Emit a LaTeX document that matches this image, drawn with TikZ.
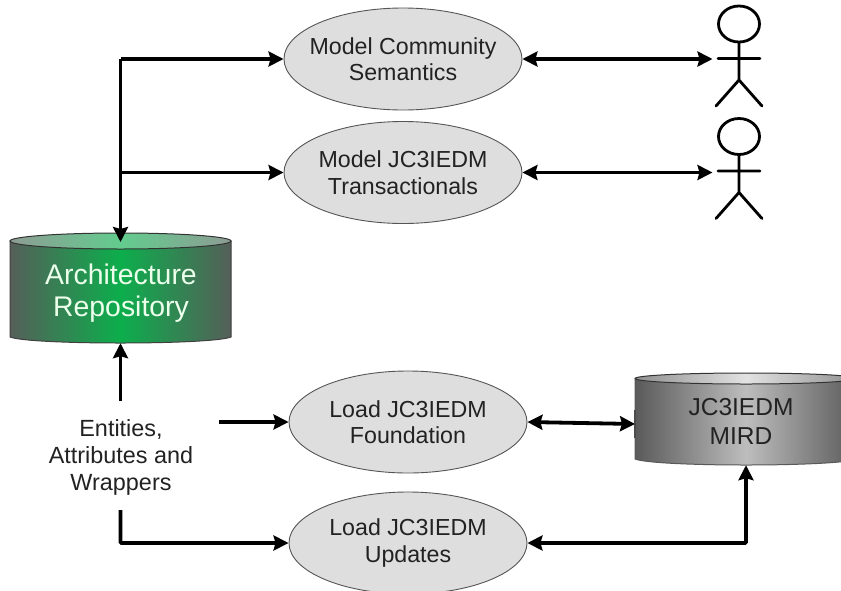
\documentclass[tikz,border=0pt]{standalone}
\usepackage{fontspec}
\setmainfont{Liberation Sans}
\usetikzlibrary{shapes.geometric,arrows.meta,calc}
\definecolor{ellfill}{HTML}{DEDEDE}
\definecolor{ellline}{HTML}{555555}
\definecolor{txt}{HTML}{222222}
\definecolor{gEdge}{HTML}{555F59}
\definecolor{gMid}{HTML}{0CAE4C}
\definecolor{gTopEdge}{HTML}{8E9C94}
\definecolor{gTopMid}{HTML}{62CC8E}
\definecolor{sEdge}{HTML}{5A5A5A}
\definecolor{sMid}{HTML}{BDBDBD}
\definecolor{sTopEdge}{HTML}{909090}
\definecolor{sTopMid}{HTML}{E2E2E2}
\tikzset{
  usecase/.style={ellipse,draw=ellline,line width=0.9pt,fill=ellfill,minimum width=238pt,minimum height=102pt,
    inner xsep=-20pt,inner ysep=0pt,align=center,text=txt,font=\fontsize{23.2}{26.5}\selectfont},
  conn/.style={line width=3.8pt,draw=black,-{Stealth[length=15pt,width=15pt,inset=2pt]}},
  connboth/.style={line width=3.8pt,draw=black,{Stealth[length=15pt,width=15pt,inset=2pt]}-{Stealth[length=15pt,width=15pt,inset=2pt]}},
  actorline/.style={line width=2.8pt,draw=black,line cap=round},
  actorhead/.style={ellipse,draw=black,line width=2.8pt,fill=white,minimum width=41pt,minimum height=36pt,inner sep=0pt},
  repo/.style={minimum width=221pt,minimum height=110pt,inner sep=0pt,align=center},
}
\begin{document}
\begin{tikzpicture}[x=1pt,y=-1pt]
\useasboundingbox (0,0) rectangle (841,590);
\clip (0,0) rectangle (841,590);

% cylinders
\path[left color=gEdge,right color=gEdge,middle color=gMid,draw=black!75,line width=1pt]
  (10,241) -- (10,337) .. controls (30,345) and (211,345) .. (231,337) -- (231,241) -- cycle;
\path[left color=gTopEdge,right color=gTopEdge,middle color=gTopMid,draw=black!80,line width=1pt]
  (120.5,241) ellipse [x radius=110.5,y radius=8];
\node[repo] (arch) at (120.5,288) {};
\node[text=white!92!green,font=\fontsize{28.4}{31.5}\selectfont,align=center,inner sep=0pt] (archlabel) at (121,293) {Architecture\\Repository};
\coordinate (archtop) at (120.5,242);

\path[left color=sEdge,right color=sEdge,middle color=sMid,draw=black!65,line width=1pt]
  (635,379) -- (635,459) .. controls (655,467) and (837,467) .. (857,459) -- (857,379) -- cycle;
\path[left color=sTopEdge,right color=sTopEdge,middle color=sTopMid,draw=black!80,line width=1pt]
  (746,378.5) ellipse [x radius=111,y radius=5.5];
\node[repo,minimum height=92pt] (mird) at (746,419) {};
\node[text=txt,font=\fontsize{24.5}{29}\selectfont,align=center,inner sep=0pt] (mirdlabel) at (741,421) {JC3IEDM\\MIRD};
\draw[line width=1.4pt,black!70] (635,410) -- (635,438);

% use cases
\node[usecase] (mcs) at (403,59) {Model Community\\Semantics};
\node[usecase] (mjt) at (403,172.5) {Model JC3IEDM\\Transactionals};
\node[usecase] (ljf) at (408,422) {Load JC3IEDM\\Foundation};
\node[usecase] (lju) at (408,543) {Load JC3IEDM\\Updates};

% entities
\node[align=center,text=txt,inner sep=0pt,font=\fontsize{23.4}{27}\selectfont] (ent) at (121,457) {Entities,\\Attributes and\\Wrappers};

% actors
\node[actorhead] (head1) at (739,24) {};
\coordinate (arm1w) at (718,58.5);
\coordinate (arm1e) at (760,58.5);
\coordinate (hip1) at (739,80);
\coordinate (foot1w) at (716,106);
\coordinate (foot1e) at (762,106);
\draw[actorline] (head1.south) -- (hip1) (arm1w) -- (arm1e) (foot1w) -- (hip1) -- (foot1e);
\coordinate (act1) at (712.5,59);

\node[actorhead] (head2) at (739,136.5) {};
\coordinate (arm2w) at (718,171);
\coordinate (arm2e) at (760,171);
\coordinate (hip2) at (739,192.5);
\coordinate (foot2w) at (716,218.5);
\coordinate (foot2e) at (762,218.5);
\draw[actorline] (head2.south) -- (hip2) (arm2w) -- (arm2e) (foot2w) -- (hip2) -- (foot2e);
\coordinate (act2) at (712.5,172.5);

% connectors
\coordinate (corner) at (120.5,59);
\coordinate (branch) at (120.5,172.5);
\draw[conn] (corner) -- (archtop);
\draw[conn] (corner) -- (mcs.west);
\draw[conn] (branch) -- (mjt.west);
\draw[connboth] (mcs.east) -- (act1);
\draw[connboth] (mjt.east) -- (act2);

\coordinate (entup) at (120.5,401);
\coordinate (entright) at (219,422);
\coordinate (entdown) at (120.5,510);
\coordinate (mirdleft) at (635,424);
\draw[conn] (entup) -- (arch.south);
\draw[conn] (entright) -- (ljf.west);
\draw[conn,rounded corners=1pt] (entdown) |- (lju.west);
\draw[connboth] (ljf.east) -- (mirdleft);
\draw[connboth,rounded corners=1pt] (lju.east) -| (mird.south);
\end{tikzpicture}
\end{document}
